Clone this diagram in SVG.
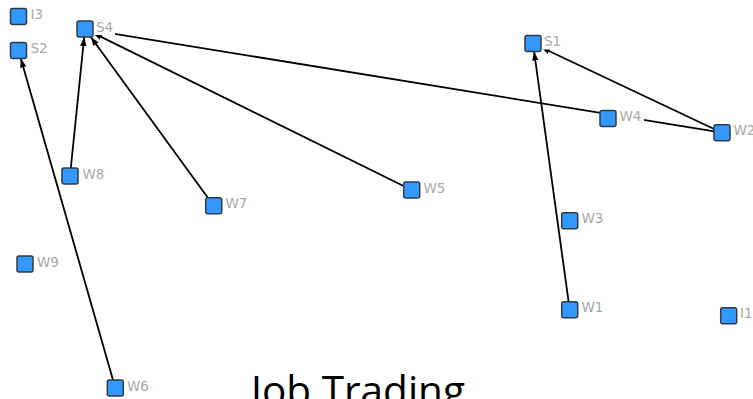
<svg xmlns="http://www.w3.org/2000/svg" width="753" height="399" viewBox="0 0 753 399">
<style>
.box{fill:#3399ff;stroke:#2f3b46;stroke-width:1.5}
.lbl{font-family:"DejaVu Sans",Verdana,sans-serif;font-size:13.5px;fill:#a8a8a8}
.bg{fill:#ffffff}
.edge{stroke:#000;stroke-width:1.8;fill:none;marker-end:url(#arr)}
.title{font-family:"Open Sans","Liberation Sans",sans-serif;font-size:40px;fill:#000}
</style>
<defs>
<marker id="arr" markerUnits="userSpaceOnUse" markerWidth="10" markerHeight="8" refX="9" refY="4" orient="auto">
<path d="M0,0.8 L9,4 L0,7.2 Z" fill="#000"/>
</marker>
</defs>
<rect width="753" height="399" fill="#fff"/>
<g id="edges">
<line class="edge" x1="70" y1="176" x2="84.2" y2="37"/>
<line class="edge" x1="213.7" y1="205.7" x2="90.8" y2="37"/>
<line class="edge" x1="411.7" y1="190" x2="93" y2="32.9"/>
<line class="edge" x1="722" y1="132.7" x2="93" y2="30.3"/>
<line class="edge" x1="115.3" y1="388" x2="20.8" y2="58.5"/>
<line class="edge" x1="569.7" y1="309.7" x2="534.1" y2="51.5"/>
<line class="edge" x1="722" y1="132.7" x2="541" y2="47.3"/>
</g>
<g id="I3"><rect class="bg" x="26.5" y="8.5" width="20" height="14"/><rect class="box" x="10.5" y="8.5" width="16" height="16" rx="2"/><text class="lbl" x="30.5" y="19">I3</text></g>
<g id="S2"><rect class="bg" x="26.5" y="42.5" width="24" height="14"/><rect class="box" x="10.5" y="42.5" width="16" height="16" rx="2"/><text class="lbl" x="30.5" y="53">S2</text></g>
<g id="S4"><rect class="bg" x="93" y="21" width="22" height="14"/><rect class="box" x="77" y="21" width="16" height="16" rx="2"/><text class="lbl" x="96" y="31.5">S4</text></g>
<g id="S1"><rect class="bg" x="541" y="35.5" width="24" height="14"/><rect class="box" x="525" y="35.5" width="16" height="16" rx="2"/><text class="lbl" x="544" y="46">S1</text></g>
<g id="W4"><rect class="bg" x="616" y="110.5" width="28" height="14"/><rect class="box" x="600" y="110.5" width="16" height="16" rx="2"/><text class="lbl" x="619.5" y="121">W4</text></g>
<g id="W2"><rect class="bg" x="730" y="124.7" width="27" height="14"/><rect class="box" x="714" y="124.7" width="16" height="16" rx="2"/><text class="lbl" x="733.5" y="135.2">W2</text></g>
<g id="W8"><rect class="bg" x="78" y="168" width="28" height="14"/><rect class="box" x="62" y="168" width="16" height="16" rx="2"/><text class="lbl" x="82.5" y="178.5">W8</text></g>
<g id="W7"><rect class="bg" x="221.7" y="197.7" width="28" height="14"/><rect class="box" x="205.7" y="197.7" width="16" height="16" rx="2"/><text class="lbl" x="225.5" y="208.2">W7</text></g>
<g id="W5"><rect class="bg" x="419.7" y="182" width="28" height="14"/><rect class="box" x="403.7" y="182" width="16" height="16" rx="2"/><text class="lbl" x="423.5" y="192.5">W5</text></g>
<g id="W3"><rect class="bg" x="577.7" y="212.7" width="28" height="14"/><rect class="box" x="561.7" y="212.7" width="16" height="16" rx="2"/><text class="lbl" x="581.5" y="223.2">W3</text></g>
<g id="W9"><rect class="bg" x="33" y="256" width="28" height="14"/><rect class="box" x="17" y="256" width="16" height="16" rx="2"/><text class="lbl" x="37" y="266.5">W9</text></g>
<g id="W1"><rect class="bg" x="577.7" y="301.7" width="28" height="14"/><rect class="box" x="561.7" y="301.7" width="16" height="16" rx="2"/><text class="lbl" x="581.5" y="312.2">W1</text></g>
<g id="I1"><rect class="bg" x="736.7" y="307.7" width="18" height="14"/><rect class="box" x="720.7" y="307.7" width="16" height="16" rx="2"/><text class="lbl" x="740" y="318.2">I1</text></g>
<g id="W6"><rect class="bg" x="123.3" y="380" width="28" height="14"/><rect class="box" x="107.3" y="380" width="16" height="16" rx="2"/><text class="lbl" x="127" y="390.5">W6</text></g>
<text class="title" x="251" y="405" textLength="214" lengthAdjust="spacingAndGlyphs">Job Trading</text>
</svg>
